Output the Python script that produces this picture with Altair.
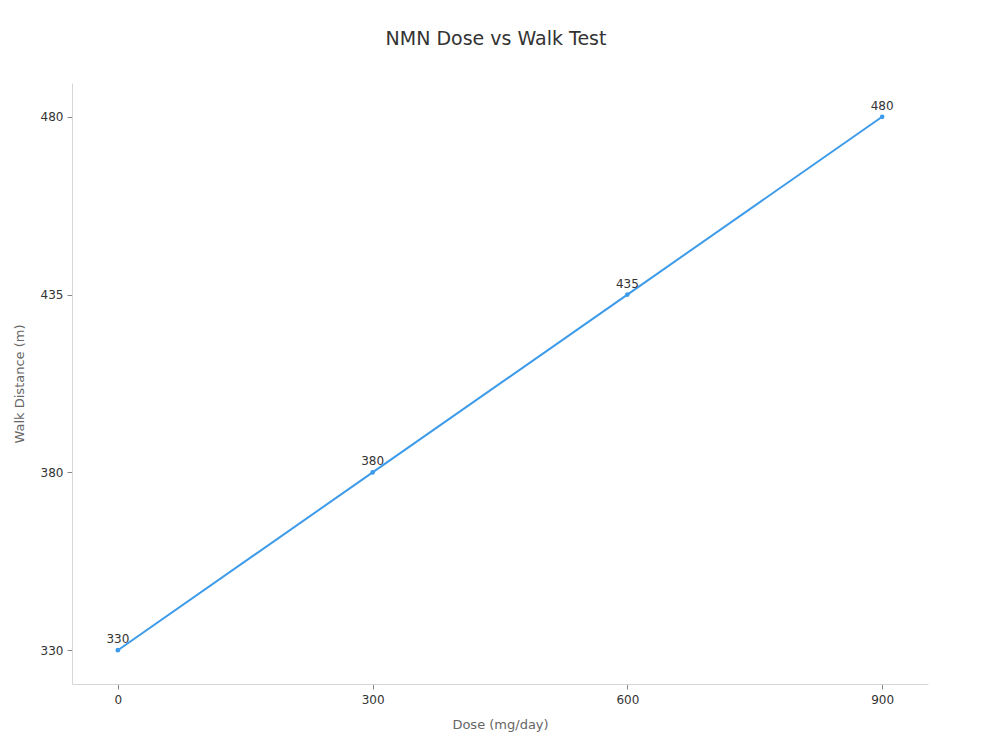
import altair as alt
import pandas as pd

doses = [0, 300, 600, 900]
distances = [330, 380, 435, 480]

df = pd.DataFrame({"dose": doses, "distance": distances})

x_enc = alt.X("dose:Q", title="Dose (mg/day)",
              scale=alt.Scale(domain=[-54, 954], nice=False, zero=False),
              axis=alt.Axis(values=doses, grid=False, domainColor="#d6d6d6",
                            tickColor="#888888", labelColor="#333333",
                            titleColor="#666666", labelFontSize=12,
                            titleFontSize=13, titleFontWeight="normal",
                            titlePadding=13, labelPadding=5))
y_enc = alt.Y("distance:O", title="Walk Distance (m)", sort="descending",
              scale=alt.Scale(type="point", padding=0.19),
              axis=alt.Axis(grid=False, domainColor="#d6d6d6", labelAngle=0,
                            tickColor="#888888", labelColor="#333333",
                            titleColor="#666666", labelFontSize=12,
                            titleFontSize=13, titleFontWeight="normal",
                            titlePadding=14, labelPadding=4))

base = alt.Chart(df).encode(x=x_enc, y=y_enc)

line = base.mark_line(color="#3d9be9", strokeWidth=2)
points = base.mark_point(color="#3d9be9", filled=True, size=22, opacity=1)
labels = base.mark_text(dy=-11, fontSize=12, color="#333333").encode(text="distance:Q")

chart = (line + points + labels).properties(
    width=856, height=601,
    padding={"top": 22, "left": 5, "right": 5, "bottom": 5},
    title=alt.TitleParams("NMN Dose vs Walk Test", fontSize=19, fontWeight="normal",
                          color="#333333", offset=34, dx=-4),
).configure(font="DejaVu Sans").configure_view(strokeWidth=0, stroke=None)

chart.save("out.html", embed_options={"renderer": "svg", "actions": False})
